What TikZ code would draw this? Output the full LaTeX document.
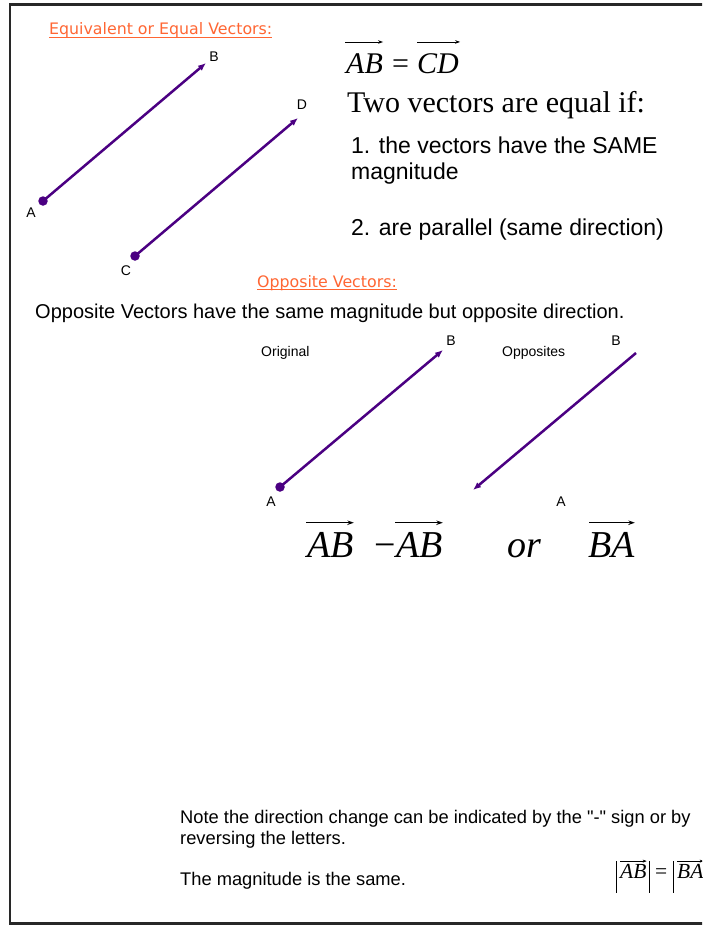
\documentclass[tikz,border=0pt]{standalone}
\usepackage{fontspec}
\setmainfont{Liberation Serif}
\newfontfamily\arial{Liberation Sans}
\newfontfamily\verdana{DejaVu Sans}
\usetikzlibrary{arrows.meta}
\definecolor{vecpurple}{RGB}{75,0,130}
\definecolor{titleorange}{RGB}{255,102,51}
\definecolor{framegray}{RGB}{40,40,40}
\begin{document}
\begin{tikzpicture}[x=1pt,y=-1pt,
  txt/.style={inner sep=0pt, anchor=base west, font=\arial\fontsize{20}{24}\selectfont},
  bigtxt/.style={inner sep=0pt, anchor=base west, font=\arial\fontsize{23}{26}\selectfont},
  notetxt/.style={inner sep=0pt, anchor=base west, font=\arial\fontsize{18.3}{22}\selectfont},
  title/.style={inner sep=0pt, anchor=base west, text=titleorange, font=\verdana\fontsize{15.8}{18}\selectfont},
  lbl/.style={inner sep=0pt, font=\arial\fontsize{14}{16}\selectfont},
  vec/.style={draw=vecpurple, line width=2.5pt, -{Latex[length=8pt,width=6.5pt]}},
  dot/.style={circle, fill=vecpurple, inner sep=0pt, minimum size=9.5pt},
  mth/.style={inner sep=0pt, anchor=base west},
  mA/.style={mth, font=\fontsize{30}{32}\selectfont},
  mB/.style={mth, font=\fontsize{38}{40}\selectfont},
  mC/.style={mth, font=\fontsize{21.5}{23}\selectfont},
  ovA/.style={draw=black, line width=0.8pt, -{Stealth[length=5pt,width=3.6pt]}},
  ovB/.style={draw=black, line width=1.1pt, -{Stealth[length=6.5pt,width=4.5pt]}},
  ovC/.style={draw=black, line width=0.6pt, -{Stealth[length=4pt,width=3pt]}},
  bar/.style={draw=black, line width=0.9pt},
  uline/.style={draw=titleorange, line width=1pt}
]
\useasboundingbox (0,0) rectangle (702,926);
\fill[white] (0,0) rectangle (702,926);
\clip (0,0) rectangle (702,926);
% frame
\draw[framegray, line width=2.5pt] (720,4.5) -- (10,4.5) -- (10,923.5) -- (720,923.5);

% --- Equal vectors ---
\node[title] (t1) at (49,34.5) {Equivalent or Equal Vectors:};
\draw[uline] ([yshift=-2.5pt]t1.base west) -- ([yshift=-2.5pt]t1.base east);

\node[dot] (A1) at (43,201) {};
\coordinate (B1) at (206,63);
\draw[vec] (A1.center) -- (B1);
\node[lbl] (lA1) at (31,213) {A};
\node[lbl] (lB1) at (214,57) {B};

\node[dot] (C1) at (135,256) {};
\coordinate (D1) at (298,118);
\draw[vec] (C1.center) -- (D1);
\node[lbl] (lC1) at (126,271) {C};
\node[lbl] (lD1) at (302,105) {D};

\node[mA] (ab1) at (346,73) {\itshape AB};
\node[mA] (eq1) at (392,73) {=};
\node[mA] (cd1) at (417,73) {\itshape CD};
\draw[ovA] ([xshift=-1pt,yshift=11pt]ab1.north west) -- ([yshift=11pt]ab1.north east);
\draw[ovA] ([xshift=0pt,yshift=11pt]cd1.north west) -- ([xshift=1pt,yshift=11pt]cd1.north east);

\node[mth, font=\fontsize{30}{32}\selectfont] (two) at (347,112) {Two vectors are equal if:};
\node[bigtxt] (c1a) at (351,153) {1. the vectors have the SAME};
\node[bigtxt] (c1b) at (351,179) {magnitude};
\node[bigtxt] (c2) at (351,235) {2. are parallel (same direction)};

% --- Opposite vectors ---
\node[title] (t2) at (257,287) {Opposite Vectors:};
\draw[uline] ([yshift=-2.5pt]t2.base west) -- ([yshift=-2.5pt]t2.base east);
\node[txt] (opdef) at (35,318) {Opposite Vectors have the same magnitude but opposite direction.};

\node[lbl, anchor=base west] (orig) at (261,356) {Original};
\node[lbl, anchor=base west] (opps) at (502,356) {Opposites};

\node[dot] (A2) at (280,487) {};
\coordinate (B2) at (443,350);
\draw[vec] (A2.center) -- (B2);
\node[lbl] (lA2) at (271,502) {A};
\node[lbl] (lB2) at (451,341) {B};

\coordinate (B3) at (636,353);
\coordinate (A3) at (473,490);
\draw[vec] (B3) -- (A3);
\node[lbl] (lA3) at (561,502) {A};
\node[lbl] (lB3) at (616,341) {B};

\node[mB] (ab2) at (307,557) {\itshape AB};
\node[mB] (mn) at (374,557) {−};
\node[mB] (ab3) at (396,557) {\itshape AB};
\node[mB] (or) at (507,557) {\itshape or};
\node[mB] (ba2) at (588,557) {\itshape BA};
\draw[ovB] ([xshift=-1pt,yshift=9pt]ab2.north west) -- ([yshift=9pt]ab2.north east);
\draw[ovB] ([xshift=-1pt,yshift=9pt]ab3.north west) -- ([yshift=9pt]ab3.north east);
\draw[ovB] ([xshift=1pt,yshift=9pt]ba2.north west) -- ([yshift=9pt]ba2.north east);

% --- notes ---
\node[notetxt] (n1) at (180,823) {Note the direction change can be indicated by the "-" sign or by};
\node[notetxt] (n2) at (180,844) {reversing the letters.};
\node[notetxt] (n3) at (180,885) {The magnitude is the same.};

\node[mC] (ab4) at (620,878) {\itshape AB};
\node[mC] (eq4) at (655,878) {=};
\node[mC] (ba4) at (677,878) {\itshape BA};
\draw[ovC] ([yshift=2.5pt]ab4.north west) -- ([yshift=2.5pt]ab4.north east);
\draw[ovC] ([yshift=2.5pt]ba4.north west) -- ([yshift=2.5pt]ba4.north east);
\draw[bar] (616.5,861) -- (616.5,893);
\draw[bar] (649,861) -- (649,893);
\draw[bar] (673,861) -- (673,893);
\end{tikzpicture}
\end{document}
